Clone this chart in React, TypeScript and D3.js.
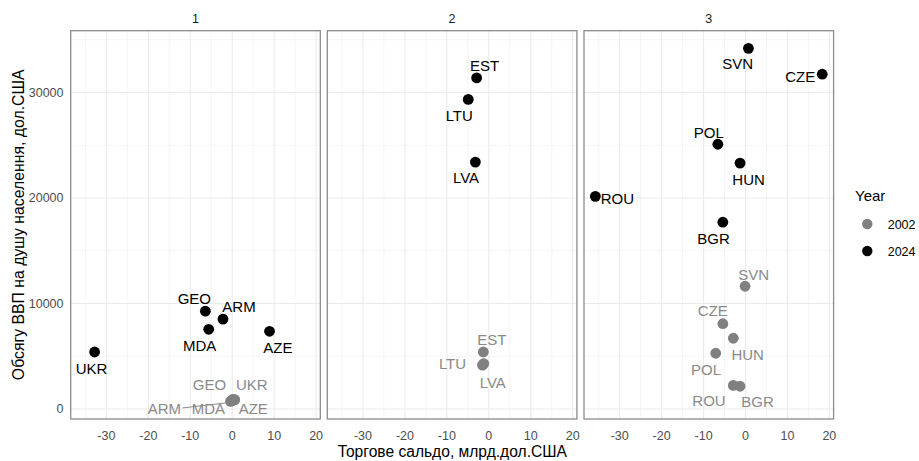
import React from 'react';
import * as d3 from 'd3';

// country data, grouped into three facets
const countries = ['UKR', 'GEO', 'ARM', 'MDA', 'AZE', 'EST', 'LTU', 'LVA', 'SVN', 'CZE', 'POL', 'HUN', 'ROU', 'BGR'];
const groups = [1, 1, 1, 1, 1, 2, 2, 2, 3, 3, 3, 3, 3, 3];
const trade2002 = [0.6, 0.1, -0.4, -0.1, 0.5, -1.3, -1.5, -1.2, -0.1, -5.4, -7.1, -2.9, -2.9, -1.3];
const gdp2002 = [880, 900, 720, 760, 850, 5400, 4150, 4300, 11630, 8080, 5280, 6700, 2230, 2150];
const trade2024 = [-32.8, -6.4, -2.2, -5.6, 8.9, -2.9, -4.9, -3.2, 0.7, 18.3, -6.6, -1.3, -35.8, -5.4];
const gdp2024 = [5400, 9270, 8520, 7550, 7360, 31380, 29340, 23400, 34180, 31730, 25090, 23300, 20150, 17700];
const years = ['2002', '2024'];
const facets = [1, 2, 3];
const xTicks = [-30, -20, -10, 0, 10, 20];
const yTicks = [0, 10000, 20000, 30000];

// repelled label offsets (px from the point), like ggrepel placed them
const labelOffsets: Record<string, [number, number]> = {
  'UKR-2024': [-3, 21.7], 'GEO-2024': [-11, -6.7], 'ARM-2024': [16, -7], 'MDA-2024': [-9, 21.7], 'AZE-2024': [8.3, 21.7],
  'EST-2024': [8, -6.7], 'LTU-2024': [-9, 21.4], 'LVA-2024': [-9.4, 21.4],
  'SVN-2024': [-10.7, 21], 'CZE-2024': [-22, 7.7], 'POL-2024': [-9, -6.7], 'HUN-2024': [8.5, 21.7], 'ROU-2024': [22, 7.7], 'BGR-2024': [-9.3, 21.7],
  'UKR-2002': [17.1, -9.9], 'GEO-2002': [-23.2, -9.7], 'ARM-2002': [-66.2, 13.1], 'MDA-2002': [-23.4, 13.5], 'AZE-2002': [19, 14.5],
  'EST-2002': [8.4, -6.7], 'LTU-2002': [-30, 4.3], 'LVA-2002': [9, 24],
  'SVN-2002': [8.7, -6.3], 'CZE-2002': [-10, -7.3], 'HUN-2002': [14.3, 21.7], 'POL-2002': [-9.7, 21.4], 'ROU-2002': [-24.3, 21], 'BGR-2002': [17.5, 21],
};

const colors: Record<string, string> = { '2002': '#808080', '2024': '#000000' };
const textColors: Record<string, string> = { '2002': '#8a8a8a', '2024': '#000000' };

const font = 'Liberation Sans, Arial, sans-serif';

const App = () => {
  const width = 919;
  const height = 461;
  const top = 30.7;
  const bottom = 419;
  const panelLefts = [70.7, 327.3, 584];
  const panelW = 249.6;

  const points = countries.flatMap((c, i) => [
    { code: c, group: groups[i], year: '2002', x: trade2002[i], y: gdp2002[i] },
    { code: c, group: groups[i], year: '2024', x: trade2024[i], y: gdp2024[i] },
  ]);

  const expand = (ext: [number, number]) => {
    const pad = (ext[1] - ext[0]) * 0.05;
    return [ext[0] - pad, ext[1] + pad];
  };
  const xDom = expand(d3.extent(points, d => d.x) as [number, number]);
  const yDom = expand(d3.extent(points, d => d.y) as [number, number]);

  const y = d3.scaleLinear().domain(yDom).range([bottom, top]);
  const xScales = panelLefts.map(l => d3.scaleLinear().domain(xDom).range([l, l + panelW]));

  const xMinor = d3.range(-35, 25, 10).filter(v => v > xDom[0] && v < xDom[1]);
  const yMinor = d3.range(5000, 40000, 10000).filter(v => v > yDom[0] && v < yDom[1]);

  return (
    <svg width={width} height={height} style={{ position: 'absolute', left: 0, top: 0, display: 'block', background: '#fff' }} fontFamily={font}>
      {facets.map((f, fi) => {
        const x = xScales[fi];
        const l = panelLefts[fi];
        const pts = points.filter(p => p.group === f);
        return (
          <g key={f}>
            {/* grid */}
            {xMinor.map(v => <line key={'xm' + v} x1={x(v)} x2={x(v)} y1={top} y2={bottom} stroke="#f3f3f3" strokeWidth={0.8} />)}
            {yMinor.map(v => <line key={'ym' + v} x1={l} x2={l + panelW} y1={y(v)} y2={y(v)} stroke="#f3f3f3" strokeWidth={0.8} />)}
            {xTicks.map(v => <line key={'x' + v} x1={x(v)} x2={x(v)} y1={top} y2={bottom} stroke="#ebebeb" strokeWidth={1.1} />)}
            {yTicks.map(v => <line key={'y' + v} x1={l} x2={l + panelW} y1={y(v)} y2={y(v)} stroke="#ebebeb" strokeWidth={1.1} />)}

            {/* strip label */}
            <text x={l + panelW / 2} y={22.7} textAnchor="middle" fontSize={12.5} fill="#1a1a1a">{f}</text>

            {/* x tick labels */}
            {xTicks.map(v => (
              <text key={'xt' + v} x={x(v)} y={439.5} textAnchor="middle" fontSize={12.5} fill="#4d4d4d">{v}</text>
            ))}

            {/* ARM 2002 repel segment */}
            {pts.filter(p => p.code === 'ARM' && p.year === '2002').map(p => {
              const [dx, dy] = labelOffsets[p.code + '-' + p.year];
              return (
                <line key="seg" x1={x(p.x) + dx + 18} y1={y(p.y) + dy - 6.5} x2={x(p.x) - 4} y2={y(p.y) + 1.5}
                  stroke="#8a8a8a" strokeWidth={1} />
              );
            })}

            {/* points */}
            {years.map(yr => pts.filter(p => p.year === yr).map(p => (
              <circle key={p.code + yr} cx={x(p.x)} cy={y(p.y)} r={5.4} fill={colors[yr]} />
            )))}

            {/* labels */}
            {pts.map(p => {
              const [dx, dy] = labelOffsets[p.code + '-' + p.year];
              return (
                <text key={'l' + p.code + p.year} x={x(p.x) + dx} y={y(p.y) + dy} textAnchor="middle" fontSize={15}
                  fill={textColors[p.year]}>{p.code}</text>
              );
            })}

            {/* border */}
            <rect x={l} y={top} width={panelW} height={bottom - top} fill="none" stroke="#8c8c8c" strokeWidth={1.3} />
          </g>
        );
      })}

      {/* y tick labels */}
      {yTicks.map(v => (
        <text key={'yt' + v} x={63.5} y={y(v) + 4.4} textAnchor="end" fontSize={12.5} fill="#4d4d4d">{v}</text>
      ))}

      {/* axis titles */}
      <text x={452.3} y={456.5} textAnchor="middle" fontSize={15.6} fill="#000">Торгове сальдо, млрд.дол.США</text>
      <text transform={`translate(24,${(top + bottom) / 2}) rotate(-90)`} textAnchor="middle" fontSize={15.8} fill="#000">
        Обсягу ВВП на душу населення, дол.США
      </text>

      {/* legend */}
      <text x={855} y={201} fontSize={15} fill="#000">Year</text>
      {years.map((yr, i) => (
        <g key={yr} transform={`translate(0,${224 + i * 27})`}>
          <circle cx={867.3} cy={0} r={5.2} fill={colors[yr]} />
          <text x={887.7} y={4.5} fontSize={12.5} fill="#000">{yr}</text>
        </g>
      ))}
    </svg>
  );
};

export default App;
